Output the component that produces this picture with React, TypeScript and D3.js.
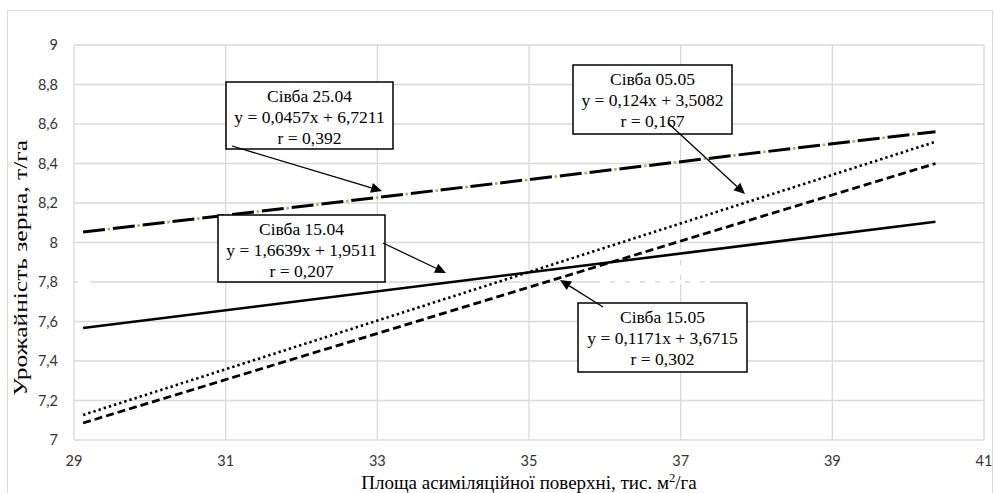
import React from "react";
import * as d3 from "d3";

// Axis ticks
const xTicks = [29, 31, 33, 35, 37, 39, 41];
const yTicks = [7, 7.2, 7.4, 7.6, 7.8, 8, 8.2, 8.4, 8.6, 8.8, 9];

// Trend lines: start / end of each line
const lineX = [29.12, 40.36];
const sowing1504 = [7.567, 8.105];
const sowing2504 = [8.053, 8.561];
const sowing0505 = [7.127, 8.51];
const sowing1505 = [7.086, 8.4];

// Callout texts
const labels1504 = ["Сівба 15.04", "y = 1,6639x + 1,9511", "r = 0,207"];
const labels2504 = ["Сівба 25.04", "y = 0,0457x + 6,7211", "r = 0,392"];
const labels0505 = ["Сівба 05.05", "y = 0,124x + 3,5082", "r = 0,167"];
const labels1505 = ["Сівба 15.05", "y = 0,1171x + 3,6715", "r = 0,302"];

const width = 995;
const height = 493;
const margin = { top: 45, right: 11, bottom: 53, left: 74 };

const serif = "Liberation Serif, Tinos, Times New Roman, DejaVu Serif, serif";
const sans = "Lato, Open Sans, sans-serif";
const grid = "#d9d9d9";

const fmt = (v: number) => String(+v.toFixed(1)).replace(".", ",");

const x = d3
  .scaleLinear()
  .domain([29, 41])
  .range([margin.left, width - margin.right]);

const y = d3
  .scaleLinear()
  .domain([7, 9])
  .range([height - margin.bottom, margin.top]);

const line = d3
  .line<number>()
  .x((d, i) => x(lineX[i]))
  .y((d) => y(d));

const Callout = ({ box, from, to, lines }) => {
  const [bx, by, bw, bh] = box;
  const ang = Math.atan2(to[1] - from[1], to[0] - from[0]);
  const L = 11;
  const W = 5;
  const baseX = to[0] - L * Math.cos(ang);
  const baseY = to[1] - L * Math.sin(ang);
  const head = [
    [to[0], to[1]],
    [baseX + W * Math.sin(ang), baseY - W * Math.cos(ang)],
    [baseX - W * Math.sin(ang), baseY + W * Math.cos(ang)],
  ];
  return (
    <g>
      <rect x={bx} y={by} width={bw} height={bh} fill="#fff" stroke="#000" strokeWidth={1.5} />
      {lines.map((t, i) => (
        <text
          key={i}
          x={bx + bw / 2}
          y={by + 20 + i * 21}
          textAnchor="middle"
          style={{ fontFamily: serif, fontSize: 17.5 }}
          fill="#000"
        >
          {t}
        </text>
      ))}
      <line x1={from[0]} y1={from[1]} x2={baseX} y2={baseY} stroke="#000" strokeWidth={1.3} />
      <polygon points={head.map((p) => p.join(",")).join(" ")} fill="#000" />
    </g>
  );
};

export default function App() {
  return (
    <svg
      width={width}
      height={height}
      style={{ position: "absolute", left: 0, top: 0, background: "#fff" }}
    >
      <rect x={7.5} y={10.5} width={985} height={490} fill="#fff" stroke={grid} />

      {/* grid */}
      {yTicks.map((t) => (
        <line key={"gy" + t} x1={x(29)} x2={x(41)} y1={y(t)} y2={y(t)} stroke={grid} strokeWidth={1.3} />
      ))}
      {xTicks.map((t) => (
        <line key={"gx" + t} x1={x(t)} x2={x(t)} y1={y(7)} y2={y(9)} stroke={grid} strokeWidth={1.3} />
      ))}
      {/* small white gaps seen in the original gridlines */}
      <line x1={78} x2={90} y1={y(7.8)} y2={y(7.8)} stroke="#fff" strokeWidth={2} />
      <line x1={600} x2={710} y1={y(7.8)} y2={y(7.8)} stroke="#fff" strokeWidth={2} strokeDasharray="10 5" />
      <line x1={x(37)} x2={x(37)} y1={250} y2={284} stroke="#fff" strokeWidth={2} strokeDasharray="10 5" />

      {/* tick labels */}
      {yTicks.map((t) => (
        <text key={"ty" + t} x={58} y={y(t) + 5} textAnchor="end" style={{ fontFamily: sans, fontSize: 14.5 }} fill="#333">
          {fmt(t)}
        </text>
      ))}
      {xTicks.map((t) => (
        <text key={"tx" + t} x={x(t)} y={466} textAnchor="middle" style={{ fontFamily: sans, fontSize: 14.5 }} fill="#333">
          {fmt(t)}
        </text>
      ))}

      {/* axis titles */}
      <text x={529} y={488.5} textAnchor="middle" style={{ fontFamily: serif, fontSize: 19 }} fill="#000">
        Площа асиміляційної поверхні, тис. м
        <tspan dy={-7} style={{ fontSize: 12.5 }}>2</tspan>
        <tspan dy={7}>/га</tspan>
      </text>
      <text
        transform={`translate(27,268) rotate(-90)`}
        textAnchor="middle"
        textLength={256}
        lengthAdjust="spacingAndGlyphs"
        style={{ fontFamily: serif, fontSize: 18 }}
        fill="#000"
      >
        Урожайність зерна, т/га
      </text>

      {/* trend lines */}
      <path d={line(sowing1504)} fill="none" stroke="#000" strokeWidth={2.6} />
      <path d={line(sowing2504)} fill="none" stroke="#9bbb59" strokeWidth={3} strokeLinecap="round" strokeDasharray="0 30" strokeDashoffset={4} />
      <path d={line(sowing2504)} fill="none" stroke="#000" strokeWidth={3} strokeDasharray="22 8" />
      <path d={line(sowing0505)} fill="none" stroke="#000" strokeWidth={2.6} strokeDasharray="2.4 3" />
      <path d={line(sowing1505)} fill="none" stroke="#000" strokeWidth={2.8} strokeDasharray="8 4" />

      {/* callouts */}
      <Callout box={[226, 82, 167, 67]} from={[232, 146]} to={[382, 191]} lines={labels2504} />
      <Callout box={[573, 65, 159, 69]} from={[668, 123]} to={[745, 194]} lines={labels0505} />
      <Callout box={[218, 215, 167, 67]} from={[383, 243]} to={[446, 273]} lines={labels1504} />
      <Callout box={[578, 303, 169, 69]} from={[603, 307]} to={[560, 280]} lines={labels1505} />
    </svg>
  );
}
